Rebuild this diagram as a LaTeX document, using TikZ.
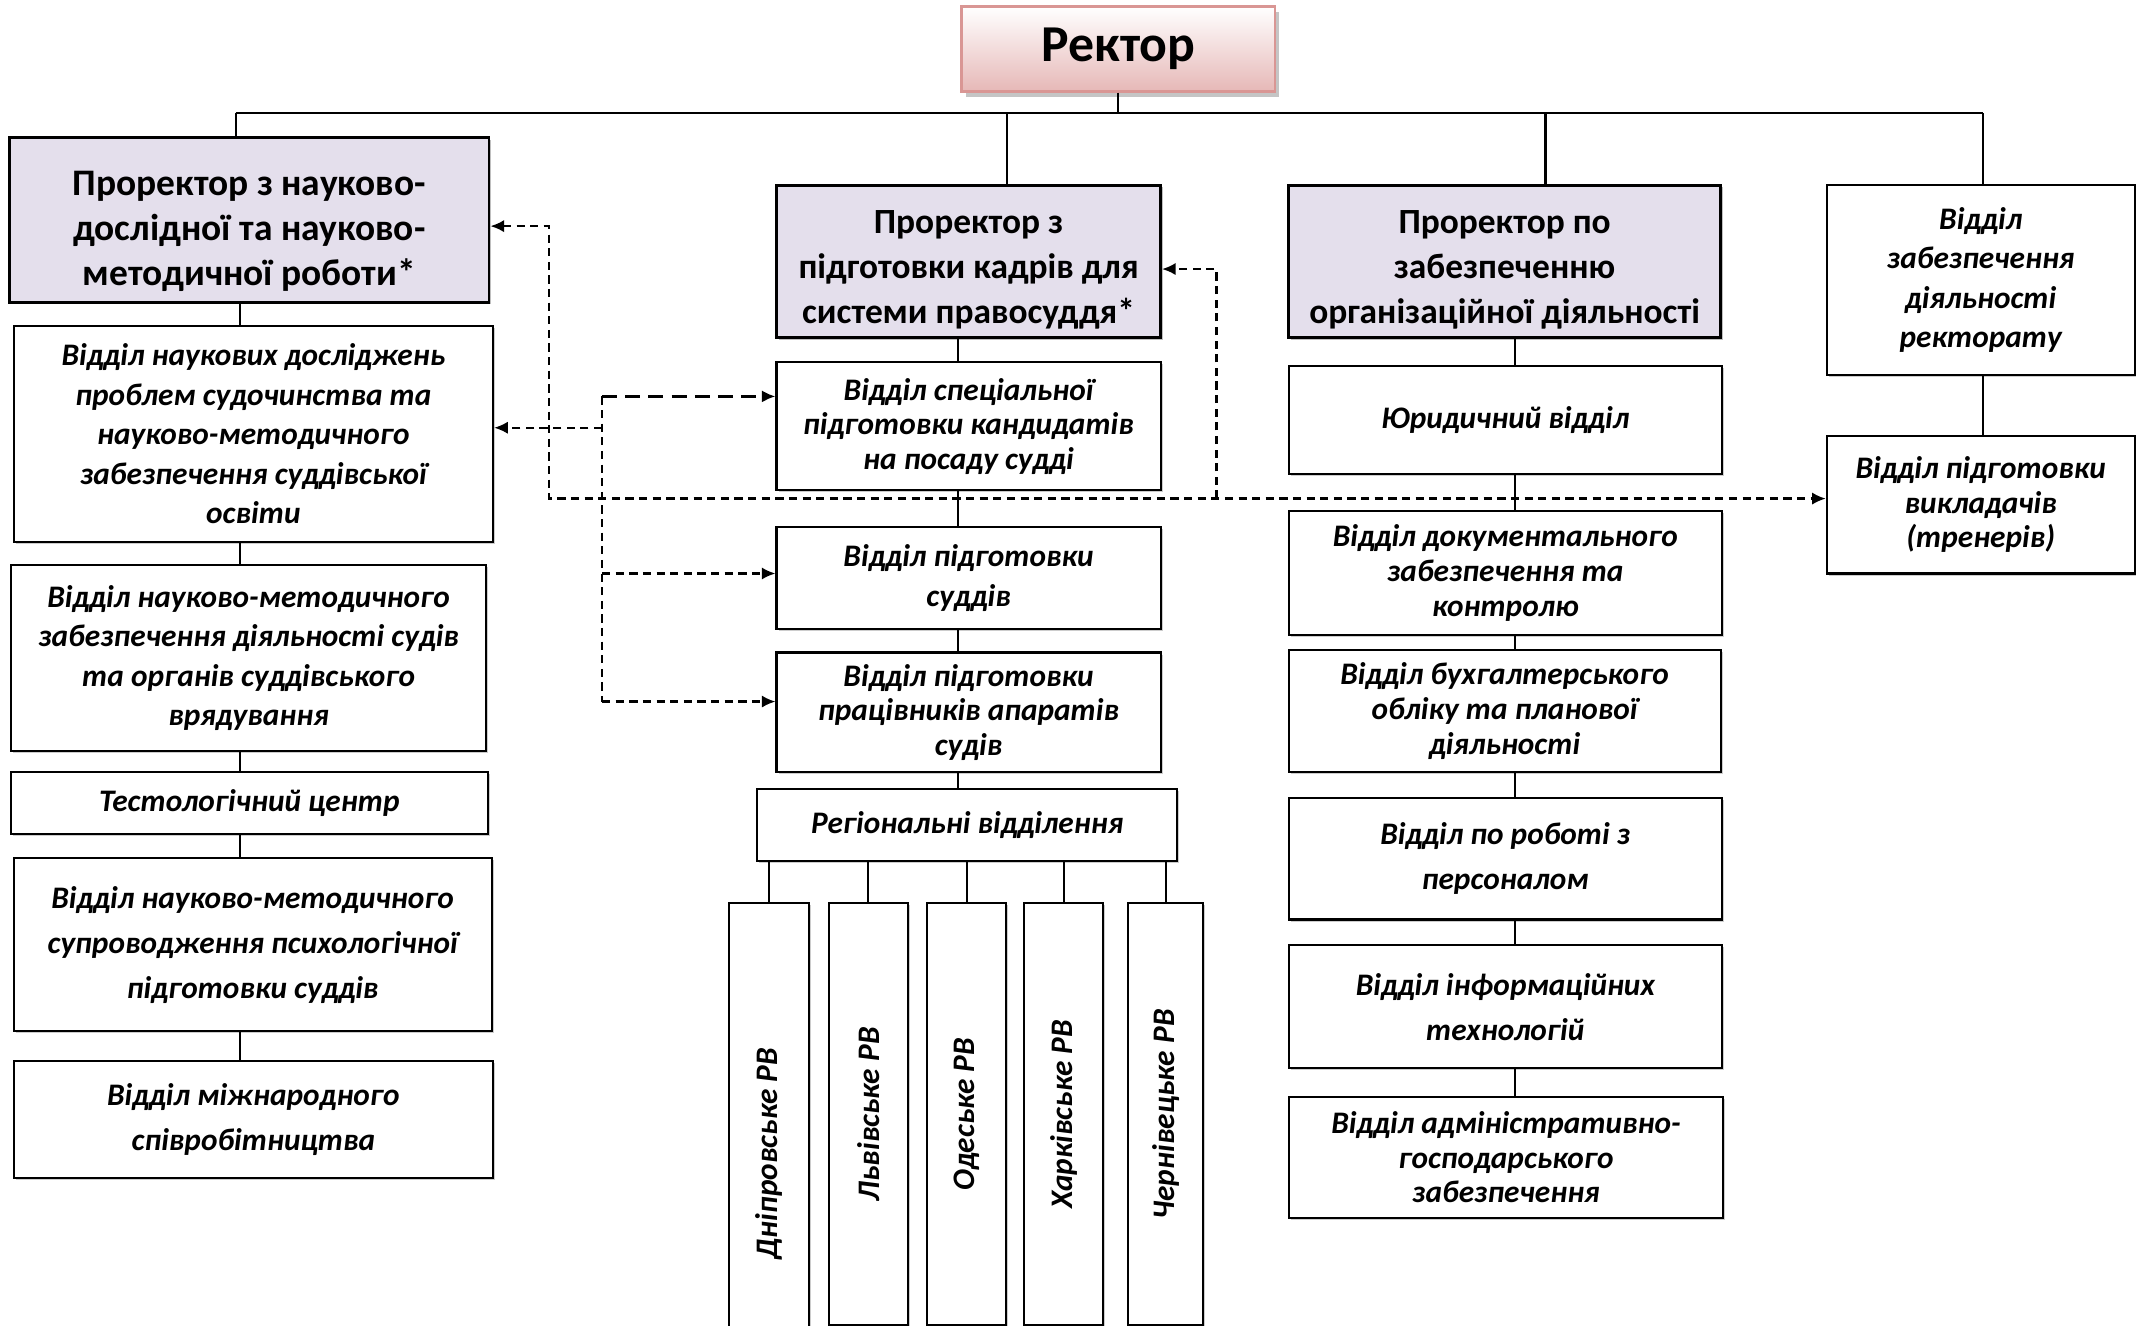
\documentclass[tikz,border=0pt]{standalone}
\usepackage{fontspec}
\setmainfont{Carlito}
\usetikzlibrary{arrows.meta, positioning, shadows}

\definecolor{lavender}{RGB}{228,223,236}
\definecolor{rosefill}{RGB}{230,184,183}
\definecolor{roseline}{RGB}{217,150,148}

\begin{document}
\begin{tikzpicture}[
  x=1pt, y=-1pt,
  every node/.style={align=center, inner sep=0pt},
  >={Latex[length=10pt,width=9pt]},
  % Rector (top node)
  chief/.style={rectangle, draw=roseline, line width=2pt, top color=white, bottom color=rosefill, minimum width=230pt, minimum height=62pt, font=\fontsize{38}{46}\selectfont\bfseries, drop shadow={shadow xshift=3pt, shadow yshift=-4pt, fill=black!45}},
  % Vice-rectors
  prorector/.style={rectangle, draw=black, line width=2pt, fill=lavender, font=\fontsize{26}{33}\selectfont\bfseries, drop shadow={shadow xshift=1.5pt, shadow yshift=-1.5pt, fill=black!50}},
  % Departments
  dept/.style={rectangle, draw=black, line width=1.5pt, fill=white, font=\fontsize{23}{29}\selectfont\bfseries\itshape, drop shadow={shadow xshift=1.5pt, shadow yshift=-1.5pt, fill=black!40}},
  deptTight/.style={dept, font=\fontsize{23}{25.5}\selectfont\bfseries\itshape},
  deptLoose/.style={dept, font=\fontsize{23}{33}\selectfont\bfseries\itshape},
  % Regional branches (vertical text)
  regional/.style={dept, rotate=90},
  % Connectors
  link/.style={line width=1.5pt},
  dlink/.style={line width=1.7pt, dash pattern=on 6pt off 4pt},
  dlinkBold/.style={line width=2.6pt, dash pattern=on 11pt off 6pt}
]
\useasboundingbox (0,0) rectangle (1568,973);

% === TOP: Rector ===
\node[chief] (rector) at (821,36) {Ректор};

% === LEVEL 1: Vice-rectors ===
\node[prorector, minimum width=352pt, minimum height=121pt, font=\fontsize{27.5}{33}\selectfont\bfseries] (prNauk) at (183,161.5) {\rule{0pt}{35pt}Проректор з науково-\\дослідної та науково-\\методичної роботи*};
\node[prorector, minimum width=282pt, minimum height=112pt] (prKadr) at (711,192) {\rule{0pt}{29pt}Проректор з\\підготовки кадрів для\\системи правосуддя*};
\node[prorector, minimum width=317pt, minimum height=112pt] (prOrg) at (1104.5,192) {\rule{0pt}{29pt}Проректор по\\забезпеченню\\організаційної діяльності};
\node[dept, minimum width=226pt, minimum height=139pt] (rectDept) at (1454,205.5) {Відділ\\забезпечення\\діяльності\\ректорату};
\node[deptTight, minimum width=226pt, minimum height=101pt] (trainDept) at (1454,370.5) {Відділ підготовки\\викладачів\\(тренерів)};

% Bus from the rector
\coordinate (busL) at (173,83);
\coordinate (busR) at (1456,83);
\draw[link, line width=2pt] (busL) -- (busR);
\draw[link] (rector.south) -- (rector.south |- busL);
\draw[link] (busL) -- (busL |- prNauk.north);
\draw[link] ([xshift=28pt]prKadr.north) -- ([xshift=28pt]prKadr.north |- busL);
\draw[link] ([xshift=30pt]prOrg.north) -- ([xshift=30pt]prOrg.north |- busL);
\draw[link] (busR) -- (busR |- rectDept.north);
\draw[link] (rectDept.south -| busR) -- (trainDept.north -| busR);

% === LEFT COLUMN: research departments ===
\node[dept, minimum width=352pt, minimum height=159pt] (researchDept) at (186,318.5) {Відділ наукових досліджень\\проблем судочинства та\\науково-методичного\\забезпечення суддівської\\освіти};
\node[dept, minimum width=349pt, minimum height=136pt] (courtsDept) at (182.5,483) {Відділ науково-методичного\\забезпечення діяльності судів\\та органів суддівського\\врядування};
\node[dept, minimum width=350pt, minimum height=45pt] (testCentre) at (183,589.5) {Тестологічний центр};
\node[deptLoose, minimum width=351pt, minimum height=127pt] (psychDept) at (185.5,693.5) {Відділ науково-методичного\\супроводження психологічної\\підготовки суддів};
\node[deptLoose, minimum width=352pt, minimum height=86pt] (intlDept) at (186,822) {Відділ міжнародного\\співробітництва};

% Edges: left column
\coordinate (colL) at (176,0);
\draw[link] (prNauk.south -| colL) -- (researchDept.north -| colL);
\draw[link] (researchDept.south -| colL) -- (courtsDept.north -| colL);
\draw[link] (courtsDept.south -| colL) -- (testCentre.north -| colL);
\draw[link] (testCentre.south -| colL) -- (psychDept.north -| colL);
\draw[link] (psychDept.south -| colL) -- (intlDept.north -| colL);

% === MIDDLE COLUMN: training departments ===
\node[deptTight, minimum width=282pt, minimum height=94pt] (kandDept) at (711,313) {Відділ спеціальної\\підготовки кандидатів\\на посаду судді};
\node[dept, minimum width=282pt, minimum height=75pt] (judgeDept) at (711,424.5) {Відділ підготовки\\суддів};
\node[deptTight, minimum width=282pt, minimum height=88pt] (staffDept) at (711,523) {Відділ підготовки\\працівників апаратів\\судів};
\node[dept, minimum width=308pt, minimum height=53pt] (regBranches) at (710,605.5) {Регіональні відділення};

% Edges: middle column
\coordinate (colM) at (703,0);
\draw[link] (prKadr.south -| colM) -- (kandDept.north -| colM);
\draw[link] (kandDept.south -| colM) -- (judgeDept.north -| colM);
\draw[link] (judgeDept.south -| colM) -- (staffDept.north -| colM);
\draw[link] (staffDept.south -| colM) -- (regBranches.north -| colM);

% Regional branches
\node[regional, minimum width=368pt, minimum height=59pt] (rvDnipro) at (564.6,847) {Дніпровське РВ};
\node[regional, minimum width=310pt, minimum height=58pt] (rvLviv) at (637.4,818) {Львівське РВ};
\node[regional, minimum width=310pt, minimum height=58pt] (rvOdesa) at (709.8,818) {Одеське РВ};
\node[regional, minimum width=310pt, minimum height=58pt] (rvKharkiv) at (781,818) {Харківське РВ};
\node[regional, minimum width=310pt, minimum height=55pt] (rvChernivtsi) at (855.6,818) {Чернівецьке РВ};

\draw[link] (rvDnipro.east) -- (rvDnipro.east |- regBranches.south);
\draw[link] (rvLviv.east) -- (rvLviv.east |- regBranches.south);
\draw[link] (rvOdesa.east) -- (rvOdesa.east |- regBranches.south);
\draw[link] (rvKharkiv.east) -- (rvKharkiv.east |- regBranches.south);
\draw[link] (rvChernivtsi.east) -- (rvChernivtsi.east |- regBranches.south);

% === RIGHT COLUMN: organisational departments ===
\node[dept, minimum width=318pt, minimum height=79pt] (lawDept) at (1105,308.5) {Юридичний відділ};
\node[deptTight, minimum width=318pt, minimum height=91pt] (docDept) at (1105,420.5) {Відділ документального\\забезпечення та\\контролю};
\node[deptTight, minimum width=317pt, minimum height=90pt] (accDept) at (1104.5,522) {Відділ бухгалтерського\\обліку та планової\\діяльності};
\node[deptLoose, minimum width=318pt, minimum height=89pt] (hrDept) at (1105,630.5) {Відділ по роботі з\\персоналом};
\node[deptLoose, minimum width=318pt, minimum height=90pt] (itDept) at (1105,739) {Відділ інформаційних\\технологій};
\node[deptTight, minimum width=319pt, minimum height=89pt] (ahDept) at (1105.5,849.5) {Відділ адміністративно-\\господарського\\забезпечення};

% Edges: right column
\coordinate (colE) at (1112,0);
\draw[link] (prOrg.south -| colE) -- (lawDept.north -| colE);
\draw[link] (lawDept.south -| colE) -- (docDept.north -| colE);
\draw[link] (docDept.south -| colE) -- (accDept.north -| colE);
\draw[link] (accDept.south -| colE) -- (hrDept.north -| colE);
\draw[link] (hrDept.south -| colE) -- (itDept.north -| colE);
\draw[link] (itDept.south -| colE) -- (ahDept.north -| colE);

% === Dashed links ===
\coordinate (jA) at (403,366);
\coordinate (jB) at (893,366);
\draw[dlink, <->] ([yshift=-4.5pt]prNauk.east) -| (jA) -- (jA -| trainDept.west);
\draw[dlink, ->] (jB) |- ([yshift=-5.5pt]prKadr.east);

\coordinate (jC) at (442,291);
\coordinate (jD) at (442,515);
\draw[dlinkBold, ->] (jC) -- (jC -| kandDept.west);
\draw[dlink] (jC) -- (jD);
\draw[dlink, ->] (jD) -- (jD -| staffDept.west);
\draw[dlink, ->] ([yshift=4.5pt]researchDept.east -| jC) -- ([yshift=4.5pt]researchDept.east);
\draw[dlink, ->] ([yshift=3.5pt]judgeDept.west -| jC) -- ([yshift=3.5pt]judgeDept.west);

\end{tikzpicture}
\end{document}
